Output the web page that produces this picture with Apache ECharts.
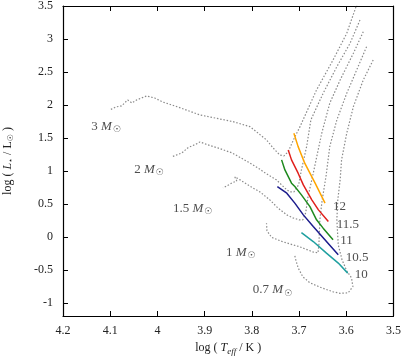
<!DOCTYPE html>
<html>
<head>
<meta charset="utf-8">
<script src="https://cdn.jsdelivr.net/npm/echarts@6/dist/echarts.min.js"></script>
<style>
  html, body { margin: 0; padding: 0; background: #fff; }
  #chart { width: 404px; height: 358px; }
</style>
</head>
<body>
<div id="chart"></div>
<script>
// tick values
var xTicks = [4.2, 4.1, 4.0, 3.9, 3.8, 3.7, 3.6, 3.5];
var yTicks = [-1, -0.5, 0, 0.5, 1, 1.5, 2, 2.5, 3, 3.5];

// evolutionary tracks [log Teff, log L], from the Hayashi line down to the ZAMS
var track3 = [
  [3.575, 3.58], [3.599, 3.086], [3.628, 2.682], [3.663, 2.227], [3.698, 1.671],
  [3.712, 1.47], [3.723, 1.292], [3.732, 1.227], [3.741, 1.242], [3.755, 1.348],
  [3.769, 1.47], [3.804, 1.671], [3.84, 1.747], [3.91, 1.848], [3.957, 1.97],
  [3.989, 2.045], [4.006, 2.106], [4.023, 2.136], [4.027, 2.106], [4.044, 2.076],
  [4.054, 2.03], [4.063, 2.076], [4.076, 1.985], [4.088, 1.97], [4.101, 1.924]
];
var track2 = [
  [3.571, 3.288], [3.592, 2.935], [3.62, 2.58], [3.649, 2.177], [3.675, 1.773],
  [3.684, 1.368], [3.695, 1.015], [3.701, 0.788], [3.711, 0.682], [3.719, 0.682],
  [3.726, 0.712], [3.748, 0.864], [3.772, 0.97], [3.787, 1.045], [3.808, 1.136],
  [3.842, 1.273], [3.872, 1.348], [3.893, 1.394], [3.91, 1.439], [3.915, 1.417],
  [3.927, 1.379], [3.936, 1.348], [3.948, 1.273], [3.97, 1.212]
];
var track15 = [
  [3.564, 3.111], [3.585, 2.783], [3.613, 2.379], [3.635, 2.026], [3.652, 1.571],
  [3.664, 1.167], [3.673, 0.864], [3.681, 0.611], [3.686, 0.364], [3.692, 0.258],
  [3.7, 0.258], [3.713, 0.288], [3.726, 0.333], [3.745, 0.439], [3.762, 0.561],
  [3.783, 0.682], [3.798, 0.742], [3.815, 0.818], [3.825, 0.864], [3.836, 0.909],
  [3.832, 0.848], [3.842, 0.818], [3.853, 0.773], [3.861, 0.742]
];
var track1 = [
  [3.557, 2.883], [3.578, 2.53], [3.599, 2.177], [3.62, 1.773], [3.635, 1.368],
  [3.643, 0.914], [3.651, 0.561], [3.656, 0.258], [3.658, -0.121], [3.66, -0.243],
  [3.671, -0.228], [3.698, -0.152], [3.734, -0.076], [3.758, -0.008], [3.768, 0.091],
  [3.769, 0.207]
];
var track07 = [
  [3.543, 2.682], [3.564, 2.379], [3.585, 1.974], [3.599, 1.571], [3.61, 1.167],
  [3.613, 0.864], [3.618, 0.561], [3.62, 0.258], [3.617, -0.121], [3.609, -0.349],
  [3.599, -0.515], [3.589, -0.621], [3.586, -0.753], [3.596, -0.849], [3.613, -0.856],
  [3.628, -0.833], [3.652, -0.773], [3.677, -0.697], [3.692, -0.606], [3.702, -0.47],
  [3.707, -0.348], [3.709, -0.288]
];
var massNames = ['3', '2', '1.5', '1', '0.7'];
var massLabelPos = [[4.14, 1.671], [4.049, 1.026], [3.967, 0.435], [3.855, -0.238], [3.798, -0.803]];

// isochrones
var iso12 = [[3.711, 1.571], [3.702, 1.368], [3.688, 1.117], [3.666, 0.814], [3.645, 0.511]];
var iso115 = [[3.723, 1.318], [3.716, 1.167], [3.702, 0.965], [3.691, 0.788], [3.673, 0.561], [3.659, 0.409], [3.638, 0.232]];
var iso11 = [[3.737, 1.167], [3.73, 1.015], [3.716, 0.814], [3.709, 0.762], [3.695, 0.636], [3.677, 0.459], [3.663, 0.258], [3.649, 0.132], [3.628, -0.045]];
var iso105 = [[3.746, 0.762], [3.726, 0.662], [3.709, 0.511], [3.691, 0.333], [3.67, 0.156], [3.642, -0.071], [3.617, -0.273]];
var iso10 = [[3.695, 0.065], [3.67, -0.071], [3.642, -0.247], [3.617, -0.398], [3.597, -0.55]];
var isoNames = ['12', '11.5', '11', '10.5', '10'];
var isoLabelPos = [[3.628, 0.459], [3.62, 0.182], [3.613, -0.056], [3.601, -0.308], [3.582, -0.565]];

var serif = 'Liberation Serif';
var gray = '#8a8a8a';

function trackSeries(data) {
  return {
    type: 'line', data: data, symbol: 'none', silent: true,
    lineStyle: { color: gray, width: 1.2, type: [1.5, 1.8] }
  };
}
function isoSeries(data, color) {
  return {
    type: 'line', data: data, symbol: 'none', silent: true, z: 3,
    lineStyle: { color: color, width: 1.5 }
  };
}

var chart = echarts.init(document.getElementById('chart'), null, { renderer: 'canvas' });

var axisCommon = {
  type: 'value',
  splitLine: { show: false },
  axisLine: { show: true, onZero: false, lineStyle: { color: '#000', width: 1.2 } }
};

var option = {
  backgroundColor: '#fff',
  animation: false,
  grid: { left: 63, right: 10.5, top: 6, bottom: 42, outerBoundsMode: 'none' },
  xAxis: [
    Object.assign({}, axisCommon, {
      min: 3.5, max: 4.2, inverse: true, position: 'bottom',
      axisTick: { inside: true, length: 5, customValues: xTicks, lineStyle: { color: '#000' } },
      axisLabel: {
        customValues: xTicks, margin: 9, color: '#222', fontFamily: serif, fontSize: 12,
        formatter: function (v) { return String(+(+v).toFixed(1)); }
      },
      name: 'log ( {i|T}{sub|eff} / K )',
      nameLocation: 'middle', nameGap: 21,
      nameTextStyle: {
        color: '#222', fontFamily: serif, fontSize: 12,
        rich: {
          i: { fontFamily: serif, fontStyle: 'italic', fontSize: 12, color: '#222' },
          sub: { fontFamily: serif, fontStyle: 'italic', fontSize: 9, color: '#222', padding: [7, 0, 0, 0] }
        }
      }
    }),
    Object.assign({}, axisCommon, {
      min: 3.5, max: 4.2, inverse: true, position: 'top',
      axisTick: { inside: true, length: 5, customValues: xTicks, lineStyle: { color: '#000' } },
      axisLabel: { show: false }
    })
  ],
  yAxis: [
    Object.assign({}, axisCommon, {
      min: -1.2, max: 3.5, position: 'left',
      axisTick: { inside: true, length: 5, customValues: yTicks, lineStyle: { color: '#000' } },
      axisLabel: {
        customValues: yTicks, margin: 10, color: '#222', fontFamily: serif, fontSize: 12,
        formatter: function (v) { return String(+(+v).toFixed(1)); }
      },
      name: 'log ( {i|L}{sub|⋆} / L{sub|☉} )',
      nameLocation: 'middle', nameGap: 48, nameRotate: 90,
      nameTextStyle: {
        color: '#222', fontFamily: serif, fontSize: 12,
        rich: {
          i: { fontFamily: serif, fontStyle: 'italic', fontSize: 12, color: '#222' },
          sub: { fontFamily: 'DejaVu Sans', fontSize: 8, color: '#222', padding: [6, 0, 0, 0] }
        }
      }
    }),
    Object.assign({}, axisCommon, {
      min: -1.2, max: 3.5, position: 'right',
      axisTick: { inside: true, length: 5, customValues: yTicks, lineStyle: { color: '#000' } },
      axisLabel: { show: false }
    })
  ],
  series: [
    trackSeries(track3),
    trackSeries(track2),
    trackSeries(track15),
    trackSeries(track1),
    trackSeries(track07),
    isoSeries(iso12, '#ffa500'),
    isoSeries(iso115, '#e0201c'),
    isoSeries(iso11, '#1f8a1f'),
    isoSeries(iso105, '#1c1c8c'),
    isoSeries(iso10, '#20a0a0'),
    {
      type: 'scatter', symbolSize: 0, silent: true,
      data: massLabelPos.map(function (p, i) { return { value: p, name: massNames[i] }; }),
      label: {
        show: true, position: 'right', distance: 0,
        formatter: function (p) { return '{n|' + p.name + ' }{i|M}{s|☉}'; },
        rich: {
          n: { fontFamily: serif, fontSize: 13, color: '#222' },
          i: { fontFamily: serif, fontStyle: 'italic', fontSize: 13, color: '#222' },
          s: { fontFamily: 'DejaVu Sans', fontSize: 9, color: '#222', padding: [7, 0, 0, 1] }
        }
      }
    },
    {
      type: 'scatter', symbolSize: 0, silent: true,
      data: isoLabelPos.map(function (p, i) { return { value: p, name: isoNames[i] }; }),
      label: {
        show: true, position: 'right', distance: 0,
        formatter: '{b}', fontFamily: serif, fontSize: 13, color: '#222'
      }
    }
  ]
};

chart.setOption(option);
</script>
</body>
</html>
